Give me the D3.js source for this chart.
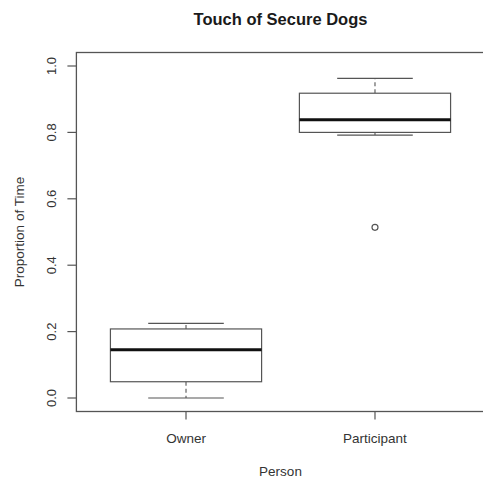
<!DOCTYPE html>
<html>
<head>
<meta charset="utf-8">
<script src="https://cdn.jsdelivr.net/npm/d3@7"></script>
<style>
  html, body { margin: 0; padding: 0; background: #fff; }
  svg { display: block; }
  text { font-family: "Liberation Sans", Arial, sans-serif; fill: #333; }
</style>
</head>
<body>
<svg id="chart" width="483" height="479"></svg>
<script>
// Box statistics per group (proportion of time)
const categories = ["Owner", "Participant"];
const lowerWhisker = [0.0, 0.792];
const q1 = [0.049, 0.800];
const median = [0.145, 0.838];
const q3 = [0.208, 0.918];
const upperWhisker = [0.225, 0.963];
const outliers = [[], [0.514]];
const yTicks = [0.0, 0.2, 0.4, 0.6, 0.8, 1.0];

const svg = d3.select("#chart");
const lineCol = "#555";

// Scales: groups sit at positions 1..n, as in a base-graphics boxplot
const x = d3.scaleLinear().domain([0.42, 2.58]).range([76.4, 484.6]);
const y = d3.scaleLinear().domain([0, 1]).range([398, 66]);
const halfBox = 0.4, halfCap = 0.2;

// Plot frame
const frameTop = 52.5, frameBottom = 411.5;
svg.append("rect")
  .attr("x", x.range()[0]).attr("y", frameTop)
  .attr("width", x.range()[1] - x.range()[0] + 2)
  .attr("height", frameBottom - frameTop)
  .attr("fill", "none").attr("stroke", lineCol).attr("stroke-width", 1.3);

// Y axis
const yAxis = svg.append("g").attr("transform", `translate(${x.range()[0]},0)`);
yAxis.selectAll("line").data(yTicks).join("line")
  .attr("x1", -9).attr("x2", 0)
  .attr("y1", d => y(d)).attr("y2", d => y(d))
  .attr("stroke", lineCol).attr("stroke-width", 1.2);
yAxis.selectAll("text").data(yTicks).join("text")
  .attr("transform", d => `translate(-20,${y(d)}) rotate(-90)`)
  .attr("text-anchor", "middle")
  .attr("font-size", 13)
  .text(d => d3.format(".1f")(d));

// X axis
const xAxis = svg.append("g").attr("transform", `translate(0,${frameBottom})`);
xAxis.selectAll("line").data(categories).join("line")
  .attr("x1", (d, i) => x(i + 1)).attr("x2", (d, i) => x(i + 1))
  .attr("y1", 0).attr("y2", 8)
  .attr("stroke", lineCol).attr("stroke-width", 1.2);
xAxis.selectAll("text").data(categories).join("text")
  .attr("x", (d, i) => x(i + 1)).attr("y", 31)
  .attr("text-anchor", "middle")
  .attr("font-size", 13.5)
  .text(d => d);

// Boxes
const groups = svg.append("g").selectAll("g").data(categories).join("g");
groups.each(function (d, i) {
  const g = d3.select(this);
  const cx = x(i + 1);
  const bx0 = x(i + 1 - halfBox), bx1 = x(i + 1 + halfBox);
  const cx0 = x(i + 1 - halfCap), cx1 = x(i + 1 + halfCap);

  // whiskers (dashed)
  g.append("line").attr("x1", cx).attr("x2", cx)
    .attr("y1", y(q3[i])).attr("y2", y(upperWhisker[i]))
    .attr("stroke", lineCol).attr("stroke-width", 1.1).attr("stroke-dasharray", "4,3");
  g.append("line").attr("x1", cx).attr("x2", cx)
    .attr("y1", y(q1[i])).attr("y2", y(lowerWhisker[i]))
    .attr("stroke", lineCol).attr("stroke-width", 1.1).attr("stroke-dasharray", "4,3");
  // whisker caps
  [upperWhisker[i], lowerWhisker[i]].forEach(v => {
    g.append("line").attr("x1", cx0).attr("x2", cx1)
      .attr("y1", y(v)).attr("y2", y(v))
      .attr("stroke", lineCol).attr("stroke-width", 1.2);
  });
  // box
  g.append("rect")
    .attr("x", bx0).attr("y", y(q3[i]))
    .attr("width", bx1 - bx0).attr("height", y(q1[i]) - y(q3[i]))
    .attr("fill", "#fff").attr("stroke", lineCol).attr("stroke-width", 1.2);
  // median
  g.append("line").attr("x1", bx0).attr("x2", bx1)
    .attr("y1", y(median[i])).attr("y2", y(median[i]))
    .attr("stroke", "#111").attr("stroke-width", 3);
  // outliers
  g.selectAll("circle").data(outliers[i]).join("circle")
    .attr("cx", cx).attr("cy", v => y(v)).attr("r", 3)
    .attr("fill", "none").attr("stroke", lineCol).attr("stroke-width", 1.2);
});

// Title and axis titles
svg.append("text")
  .attr("x", 280.5).attr("y", 25)
  .attr("text-anchor", "middle")
  .attr("font-size", 16.5).attr("font-weight", "bold")
  .style("fill", "#1a1a1a")
  .text("Touch of Secure Dogs");

svg.append("text")
  .attr("x", 280.5).attr("y", 476)
  .attr("text-anchor", "middle")
  .attr("font-size", 13.5)
  .text("Person");

svg.append("text")
  .attr("transform", `translate(24,${(frameTop + frameBottom) / 2}) rotate(-90)`)
  .attr("text-anchor", "middle")
  .attr("font-size", 13.5)
  .text("Proportion of Time");
</script>
</body>
</html>
